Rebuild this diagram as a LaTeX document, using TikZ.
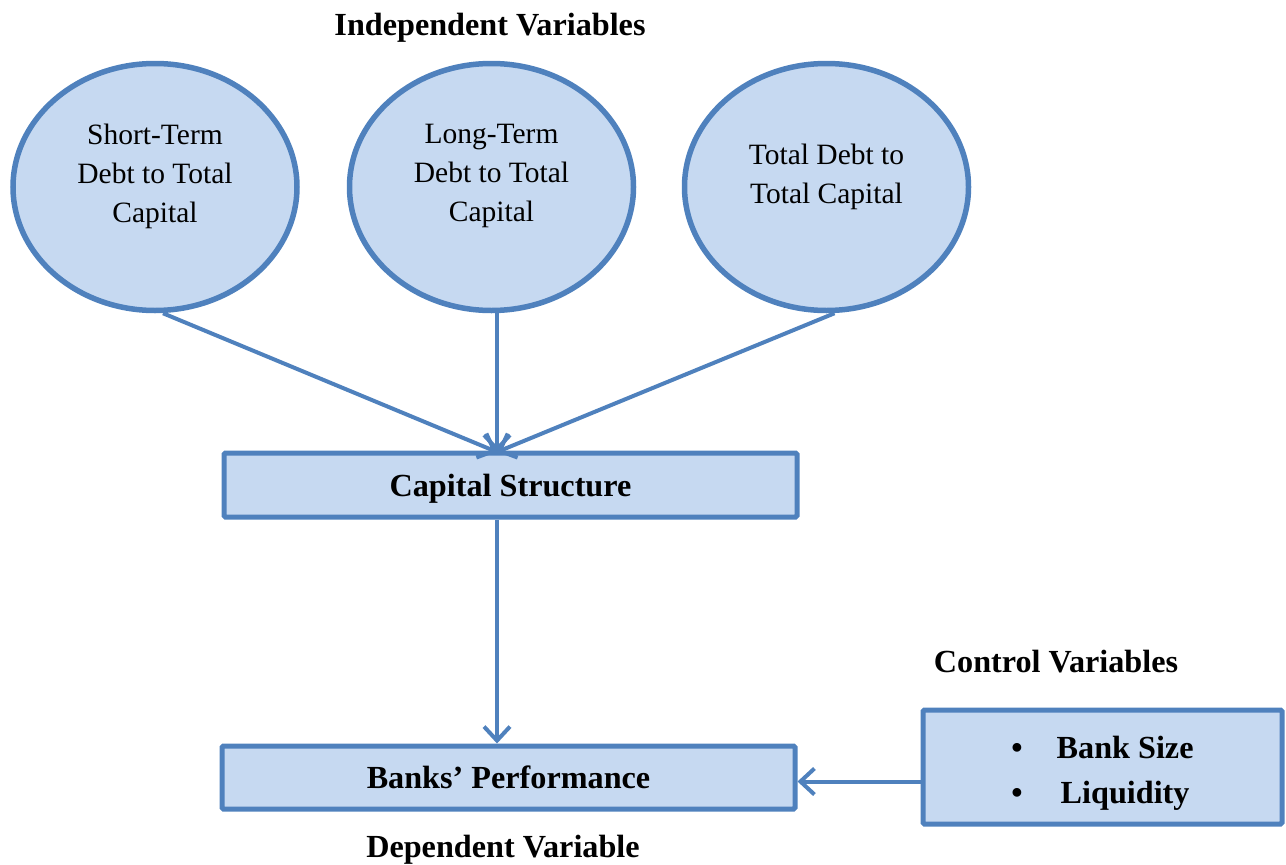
\documentclass[tikz,border=0pt]{standalone}
\usepackage{fontspec}
\setmainfont{Liberation Serif}
\usetikzlibrary{shapes.geometric,arrows.meta}
\definecolor{boxfill}{HTML}{C6D9F1}
\definecolor{boxline}{HTML}{4F81BD}
\begin{document}
\begin{tikzpicture}[x=1pt,y=-1pt,
  varellipse/.style={ellipse,draw=boxline,fill=boxfill,line width=5.5pt,
    minimum width=284pt,minimum height=247pt,inner sep=0pt},
  vartext/.style={align=center,font=\fontsize{29.5}{39}\selectfont},
  varbox/.style={rectangle,draw=boxline,fill=boxfill,line width=5pt,rounded corners=1.5pt,
    inner sep=0pt,font=\fontsize{32.2}{40}\selectfont\bfseries},
  heading/.style={font=\fontsize{32.2}{40}\selectfont\bfseries},
  link/.style={draw=boxline,line width=4pt,
    -{Straight Barb[length=14pt,width=26pt,line width=4pt]}}]
\useasboundingbox (0,0) rectangle (1286,865);

% headings
\node[heading] (indep) at (490,28) {Independent Variables};
\node[heading] (ctrlhead) at (1056,662) {Control Variables};
\node[heading] (dephead) at (503,850) {Dependent Variable};

% independent variables
\node[varellipse] (e1) at (155,187) {};
\node[varellipse] (e2) at (491.5,187) {};
\node[varellipse] (e3) at (826.5,187) {};
\node[vartext] (t1) at (155,176) {Short-Term\\Debt to Total\\Capital};
\node[vartext] (t2) at (491.5,176) {Long-Term\\Debt to Total\\Capital};
\node[vartext] (t3) at (826.5,177) {Total Debt to\\Total Capital};

% boxes
\node[varbox,minimum width=573pt,minimum height=64pt,text depth=0pt] (cs) at (510.5,485) {Capital Structure};
\node[varbox,minimum width=573pt,minimum height=63pt] (bp) at (508.5,777.5) {Banks’ Performance};
\node[varbox,minimum width=359pt,minimum height=114pt] (ctrl) at (1102.5,767)
  {\raisebox{-12pt}[0pt][0pt]{\begin{tabular}{@{}c@{\hspace{34pt}}c@{}}
   \textbullet & Bank Size\\[5pt]
   \textbullet & Liquidity
   \end{tabular}}};

% connectors
\coordinate (hub) at (497,452);
\draw[link] ([xshift=8pt]e1.south) -- (hub);
\draw[link] (hub |- e2.south) -- (hub);
\draw[link] ([xshift=8pt]e3.south) -- (hub);
\draw[link] (hub |- cs.south) -- (hub |- bp.north);
\draw[link] ([yshift=-4pt]ctrl.west |- bp.east) -- ([yshift=-4pt]bp.east);
\end{tikzpicture}
\end{document}
